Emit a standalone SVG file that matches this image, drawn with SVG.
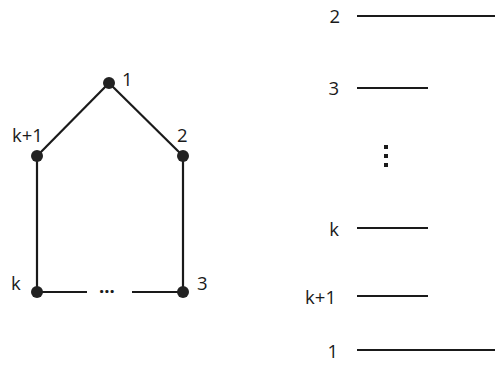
<svg xmlns="http://www.w3.org/2000/svg" width="495" height="375" viewBox="0 0 495 375">
<style>
text{font-family:"Open Sans","Liberation Sans",sans-serif;font-size:18.5px;fill:#1a1a1a}
.e{stroke:#1a1a1a;stroke-width:2.2;fill:none}
.n{fill:#222}
</style>
<rect width="495" height="375" fill="#fff"/>
<g id="connectors">
<line class="e" x1="109" y1="83" x2="37" y2="156"/>
<line class="e" x1="109" y1="83" x2="183" y2="156"/>
<line class="e" x1="37" y1="156" x2="37" y2="292"/>
<line class="e" x1="183" y1="156" x2="183" y2="292"/>
<line class="e" x1="37" y1="292" x2="87" y2="292"/>
<line class="e" x1="132" y1="292" x2="183" y2="292"/>
</g>
<g id="n1"><circle class="n" cx="109" cy="83" r="6"/><text x="122" y="86">1</text></g>
<g id="n2"><circle class="n" cx="183" cy="156" r="6"/><text x="177" y="142">2</text></g>
<g id="nk1"><circle class="n" cx="37" cy="156" r="6"/><text x="12" y="142">k+1</text></g>
<g id="nk"><circle class="n" cx="37" cy="292" r="6"/><text x="11" y="290">k</text></g>
<g id="n3"><circle class="n" cx="183" cy="292" r="6"/><text x="197" y="290">3</text></g>
<g id="dots"><text x="99" y="293" font-weight="bold">...</text></g>
<g id="levels">
<line class="e" x1="357" y1="16" x2="495" y2="16"/>
<text x="340" y="23" text-anchor="end">2</text>
<line class="e" x1="357" y1="88" x2="428" y2="88"/>
<text x="339" y="95" text-anchor="end">3</text>
<rect x="384" y="145" width="4" height="4" fill="#1a1a1a"/>
<rect x="384" y="154" width="4" height="4" fill="#1a1a1a"/>
<rect x="384" y="163" width="4" height="4" fill="#1a1a1a"/>
<line class="e" x1="357" y1="228" x2="428" y2="228"/>
<text x="339" y="236" text-anchor="end">k</text>
<line class="e" x1="357" y1="296" x2="428" y2="296"/>
<text x="336" y="304" text-anchor="end">k+1</text>
<line class="e" x1="357" y1="350" x2="495" y2="350"/>
<text x="338" y="358" text-anchor="end">1</text>
</g>
</svg>
